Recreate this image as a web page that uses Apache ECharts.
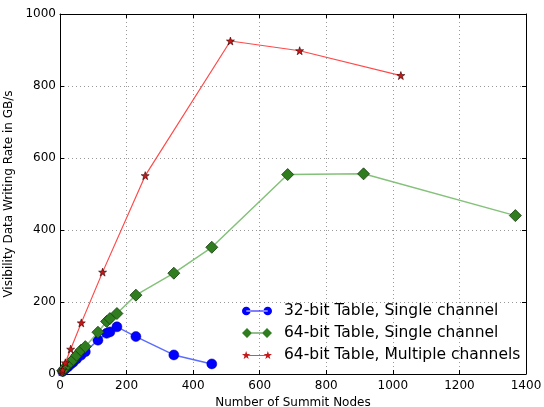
<!DOCTYPE html>
<html>
<head>
<meta charset="utf-8">
<script src="https://cdn.jsdelivr.net/npm/echarts@6/dist/echarts.min.js"></script>
<style>
  html, body { margin: 0; padding: 0; background: #fff; }
  #main { width: 544px; height: 407px; }
</style>
</head>
<body>
<div id="main"></div>
<script>
// node counts and rates
var nodes32 = [8, 16, 24, 32, 40, 50, 63, 76, 114, 140, 150, 171, 228, 342, 456];
var rate32 = [7, 14, 20, 27, 33, 42, 52, 62, 94, 113, 117, 131, 104, 53, 28];

var nodes64 = [8, 16, 24, 32, 40, 50, 63, 76, 114, 140, 150, 171, 228, 342, 456, 684, 912, 1368];
var rate64 = [9, 18, 27, 33, 40, 52, 66, 76, 116, 146, 154, 168, 219, 280, 352, 554, 556, 440];

var nodesMulti = [4, 8, 16, 32, 64, 128, 256, 512, 720, 1024];
var rateMulti = [6, 11, 31, 69, 142, 283, 551, 925, 898, 829];

var seriesNames = [
  '32-bit Table, Single channel',
  '64-bit Table, Single channel',
  '64-bit Table, Multiple channels'
];

function pairs(xs, ys) {
  var out = [];
  for (var i = 0; i < xs.length; i++) out.push([xs[i], ys[i]]);
  return out;
}

var starPath = 'path://M5,0 L6.18,3.38 L9.76,3.45 L6.90,5.62 L7.94,9.05 L5,7 L2.06,9.05 L3.10,5.62 L0.24,3.45 L3.82,3.38Z';
// legend icons: two markers joined by a line, like matplotlib
var iconCircle = 'path://M1,5a4,4 0 1,0 8,0a4,4 0 1,0 -8,0Z M21,5a4,4 0 1,0 8,0a4,4 0 1,0 -8,0Z M5,4.6h20v0.8h-20Z';
var iconDiamond = 'path://M5,0L10,5L5,10L0,5Z M25,0L30,5L25,10L20,5Z M5,4.6h20v0.8h-20Z';
var iconStar = 'path://M5,1 L5.94,3.7 L8.81,3.76 L6.52,5.5 L7.35,8.24 L5,6.6 L2.65,8.24 L3.48,5.5 L1.19,3.76 L4.06,3.7Z ' +
  'M25,1 L25.94,3.7 L28.81,3.76 L26.52,5.5 L27.35,8.24 L25,6.6 L22.65,8.24 L23.48,5.5 L21.19,3.76 L24.06,3.7Z M5,4.7h20v0.6h-20Z';

var font = 'DejaVu Sans';
var plain = function (v) { return String(v); };

var myChart = echarts.init(document.getElementById('main'));

var frameLine = { show: true, onZero: false, lineStyle: { color: '#000', width: 1 } };
var tickIn = { show: true, inside: true, length: 4, lineStyle: { color: '#000' } };

myChart.setOption({
  animation: false,
  backgroundColor: '#fff',
  textStyle: { fontFamily: font },
  grid: { left: 60, right: 18, top: 14, bottom: 33, containLabel: false, outerBoundsMode: 'none' },
  legend: {
    left: 239,
    top: 300,
    orient: 'vertical',
    itemWidth: 30,
    itemHeight: 11,
    itemGap: 6,
    padding: [3, 4, 3, 3],
    itemStyle: { borderWidth: 0 },
    lineStyle: { width: 0 },
    textStyle: { fontFamily: font, fontSize: 15.5, color: '#000', padding: [0, 0, 0, 7] },
    data: [
      { name: seriesNames[0], icon: iconCircle },
      { name: seriesNames[1], icon: iconDiamond },
      { name: seriesNames[2], icon: iconStar }
    ]
  },
  xAxis: [
    {
      type: 'value',
      min: 0,
      max: 1400,
      interval: 200,
      name: 'Number of Summit Nodes',
      nameLocation: 'middle',
      nameGap: 22,
      nameTextStyle: { fontFamily: font, fontSize: 12, color: '#000' },
      axisLine: frameLine,
      axisTick: tickIn,
      axisLabel: { fontFamily: font, fontSize: 12, color: '#000', margin: 6, formatter: plain },
      splitLine: { show: true, lineStyle: { color: '#999', type: [1, 3], width: 1 } }
    },
    {
      type: 'value',
      position: 'top',
      min: 0,
      max: 1400,
      interval: 200,
      axisLine: frameLine,
      axisTick: tickIn,
      axisLabel: { show: false },
      splitLine: { show: false }
    }
  ],
  yAxis: [
    {
      type: 'value',
      min: 0,
      max: 1000,
      interval: 200,
      name: 'Visibility Data Writing Rate in GB/s',
      nameLocation: 'middle',
      nameGap: 36,
      nameTextStyle: { fontFamily: font, fontSize: 12, color: '#000' },
      axisLine: frameLine,
      axisTick: tickIn,
      axisLabel: { fontFamily: font, fontSize: 12, color: '#000', margin: 4, formatter: plain },
      splitLine: { show: true, lineStyle: { color: '#999', type: [1, 3], width: 1 } }
    },
    {
      type: 'value',
      position: 'right',
      min: 0,
      max: 1000,
      interval: 200,
      axisLine: frameLine,
      axisTick: tickIn,
      axisLabel: { show: false },
      splitLine: { show: false }
    }
  ],
  series: [
    {
      name: seriesNames[0],
      type: 'line',
      data: pairs(nodes32, rate32),
      symbol: 'circle',
      symbolSize: 10,
      z: 3,
      lineStyle: { color: '#5b6dff', width: 1.5 },
      itemStyle: { color: '#0000ff', borderColor: '#0000aa', borderWidth: 0.5 }
    },
    {
      name: seriesNames[1],
      type: 'line',
      data: pairs(nodes64, rate64),
      symbol: 'diamond',
      symbolSize: 12,
      z: 4,
      lineStyle: { color: '#84c17a', width: 1.5 },
      itemStyle: { color: '#2f7d1f', borderColor: '#143d0c', borderWidth: 0.8 }
    },
    {
      name: seriesNames[2],
      type: 'line',
      data: pairs(nodesMulti, rateMulti),
      symbol: starPath,
      symbolSize: 8,
      z: 5,
      lineStyle: { color: '#ff4a4a', width: 1.2 },
      itemStyle: { color: '#c41a1a', borderColor: '#300', borderWidth: 0.6 }
    }
  ]
});
</script>
</body>
</html>
